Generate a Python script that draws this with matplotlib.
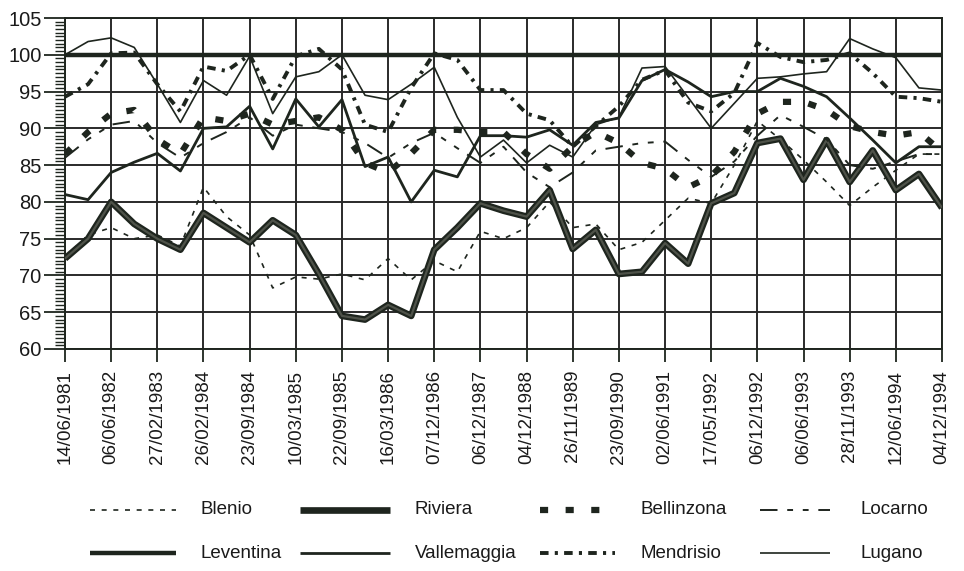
import matplotlib
matplotlib.use("Agg")
import matplotlib.pyplot as plt
import matplotlib.patheffects as pe
import numpy as np
from matplotlib.lines import Line2D

# ---------------- data ----------------
tick_labels = ["14/06/1981", "06/06/1982", "27/02/1983", "26/02/1984", "23/09/1984",
               "10/03/1985", "22/09/1985", "16/03/1986", "07/12/1986", "06/12/1987",
               "04/12/1988", "26/11/1989", "23/09/1990", "02/06/1991", "17/05/1992",
               "06/12/1992", "06/06/1993", "28/11/1993", "12/06/1994", "04/12/1994"]

blenio = [72.5, 75.5, 76.5, 75.0, 75.5, 74.0, 82.0, 78.0, 75.5, 68.3, 69.8, 69.5, 70.2,
          69.4, 72.3, 69.4, 72.0, 70.5, 76.0, 75.0, 76.5, 80.0, 76.5, 77.0, 73.5, 74.5,
          77.5, 80.5, 79.8, 85.0, 91.0, 88.5, 85.7, 82.7, 79.5, 82.0, 84.3, 86.5, 86.5]
riviera = [72.3, 75.0, 80.0, 77.0, 75.0, 73.5, 78.5, 76.5, 74.5, 77.5, 75.5, 70.2, 64.5,
           64.0, 66.0, 64.5, 73.5, 76.5, 79.8, 78.8, 78.0, 81.6, 73.6, 76.2, 70.2, 70.5,
           74.4, 71.6, 79.8, 81.2, 88.0, 88.6, 83.0, 88.4, 82.7, 87.0, 81.6, 83.8, 79.2]
bellinzona = [86.5, 89.5, 92.0, 92.5, 88.5, 86.5, 91.5, 91.0, 92.0, 90.5, 91.0, 91.5, 89.8,
              85.3, 84.0, 86.6, 89.8, 89.8, 89.5, 89.5, 86.5, 84.5, 87.5, 89.5, 88.0, 85.3,
              84.5, 82.0, 83.5, 86.8, 92.0, 93.6, 93.6, 92.5, 90.3, 89.5, 89.0, 89.5, 86.8]
locarno = [86.0, 88.5, 90.5, 91.0, 88.0, 86.0, 88.0, 89.5, 91.5, 89.0, 90.5, 90.0, 89.5,
           88.0, 86.0, 88.0, 89.4, 87.3, 85.3, 87.5, 84.0, 82.0, 84.0, 87.0, 87.5, 88.0,
           88.2, 85.7, 83.4, 85.5, 89.0, 91.8, 90.2, 88.5, 85.0, 84.5, 85.5, 86.5, 86.5]
leventina = [100.0, 100.0, 100.0, 100.0, 100.0, 100.0, 100.0, 100.0, 100.0, 100.0, 100.0,
             100.0, 100.0, 100.0, 100.0, 100.0, 100.0, 100.0, 100.0, 100.0, 100.0, 100.0,
             100.0, 100.0, 100.0, 100.0, 100.0, 100.0, 100.0, 100.0, 100.0, 100.0, 100.0,
             100.0, 100.0, 100.0, 100.0, 100.0, 100.0]
vallemaggia = [81.0, 80.3, 84.0, 85.4, 86.6, 84.2, 90.0, 90.2, 93.0, 87.2, 94.0, 90.2, 93.9,
               84.8, 86.1, 80.0, 84.3, 83.4, 89.0, 89.0, 88.8, 89.8, 87.7, 90.8, 91.4, 96.5,
               98.0, 96.3, 94.3, 95.0, 95.0, 96.8, 95.7, 94.3, 91.4, 88.4, 85.3, 87.5, 87.5]
mendrisio = [94.3, 96.0, 100.2, 100.3, 96.0, 92.3, 98.4, 97.8, 100.0, 94.0, 99.8, 100.8, 98.0,
             90.5, 89.5, 95.5, 100.2, 99.3, 95.2, 95.2, 92.0, 91.1, 87.5, 90.3, 93.0, 96.6,
             97.9, 93.5, 92.3, 94.8, 101.6, 99.7, 99.0, 99.3, 100.2, 97.5, 94.3, 94.1, 93.6]
lugano = [100.0, 101.8, 102.3, 101.0, 96.0, 90.8, 96.5, 94.5, 99.8, 92.0, 97.0, 97.7, 100.0,
          94.5, 93.9, 96.0, 98.3, 91.5, 86.1, 88.4, 85.3, 87.7, 86.1, 90.5, 91.5, 98.2,
          98.4, 94.2, 90.0, 93.4, 96.8, 97.0, 97.4, 97.7, 102.2, 100.8, 99.6, 95.5, 95.2]

# ---------------- figure ----------------
C = "#1e251e"
TXT = "#1a1a1a"
plt.rcParams["font.family"] = ["Liberation Sans", "DejaVu Sans"]

W, H = 964, 571
fig = plt.figure(figsize=(W / 100, H / 100), dpi=100)
ax = fig.add_axes([65 / W, 1 - 349 / H, (942 - 65) / W, (349 - 18) / H])

x = np.arange(len(riviera))

riv_fx = [pe.Stroke(linewidth=4.8, foreground=C), pe.Stroke(linewidth=1.6, foreground="#4e5249")]

series = [
    ("Blenio", blenio, dict(lw=1.2, dashes=(3, 4))),
    ("Riviera", riviera, dict(lw=4.8, path_effects=riv_fx)),
    ("Bellinzona", bellinzona, dict(lw=4.5, dashes=(1.3, 2.8))),
    ("Locarno", locarno, dict(lw=1.4, dashes=(9, 5, 3, 5, 3, 5))),
    ("Leventina", leventina, dict(lw=3.2)),
    ("Vallemaggia", vallemaggia, dict(lw=2.0)),
    ("Mendrisio", mendrisio, dict(lw=2.8, dashes=(2.2, 1.6, 0.8, 1.6))),
    ("Lugano", lugano, dict(lw=1.2)),
]

for name, vals, st in series:
    ax.plot(x, vals, color=C, solid_capstyle="butt", dash_capstyle="butt",
            label=name, zorder=3, **st)

ax.set_xlim(0, len(riviera) - 1)
ax.set_ylim(60, 105)
ax.set_yticks(np.arange(60, 106, 5))
ax.set_yticks(np.arange(60, 105.1, 0.5), minor=True)
ax.set_xticks(np.arange(0, len(riviera), 2))
ax.set_xticklabels(tick_labels, rotation=90, fontsize=13.5, color=TXT)
ax.tick_params(axis="y", which="major", length=15, width=1.3, color=C,
               labelsize=14.5, labelcolor=TXT, pad=2)
ax.tick_params(axis="y", which="minor", length=7, width=1.0, color=C)
ax.tick_params(axis="x", which="major", length=9, width=1.3, color=C, pad=6)
ax.grid(True, which="major", color="#2a2a2a", lw=1.4, zorder=1)
for s in ax.spines.values():
    s.set_color(C)
    s.set_linewidth(1.4)

# ---------------- legend (two rows of four, placed in pixels) ----------------
sample_x = [(90, 176), (300, 390), (540, 615), (760, 830)]
label_x = [200, 415, 640, 860]
row_y = [510, 553]
for k, (name, vals, st) in enumerate(series):
    r, c = divmod(k, 4)
    x0, x1 = sample_x[c]
    yy = 1 - row_y[r] / H
    st = {kk: vv for kk, vv in st.items() if kk != "path_effects"}
    fig.add_artist(Line2D([x0 / W, x1 / W], [yy, yy], transform=fig.transFigure,
                          color=C, solid_capstyle="butt", dash_capstyle="butt", **st))
    fig.text(label_x[c] / W, yy, name, fontsize=13.5, color=TXT, va="center", ha="left")

fig.savefig("out.png", dpi=100, facecolor="white")
